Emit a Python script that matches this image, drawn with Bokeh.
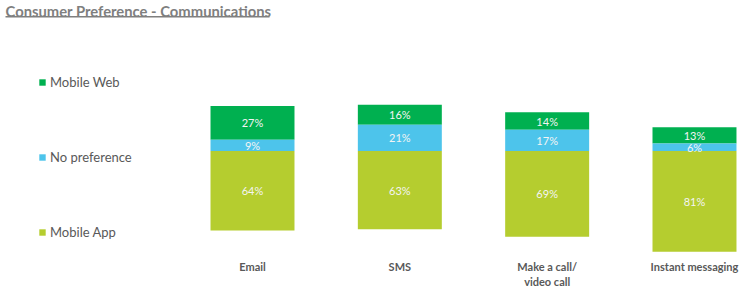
from bokeh.plotting import figure
from bokeh.models import (ColumnDataSource, Range1d, Legend, LegendItem, Label,
                          BoxAnnotation, FixedTicker)
from bokeh.core.properties import value
from bokeh.embed import file_html
from bokeh.resources import INLINE

# ---- data ----
categories = ["Email", "SMS", "Make a call/\nvideo call", "Instant messaging"]
mobile_web = [27, 16, 14, 13]
no_preference = [9, 21, 17, 6]
mobile_app = [64, 63, 69, 81]
series_names = ["Mobile Web", "No preference", "Mobile App"]
colors = ["#00B050", "#4DC4EB", "#B5CD2F"]
title_text = "Consumer Preference - Communications"

# ---- layout ----
W, H = 745, 291
frame_bottom = 255          # canvas px where the plotting frame ends
first_center = 252          # canvas px of the first category centre
cat_step = 147.33           # px between category centres
base_px = 151.6             # canvas px of the 0 line (App below, others above)
px_per_pct = 1.255

x = list(range(len(categories)))
src = ColumnDataSource(dict(
    x=x,
    web_bottom=no_preference,
    web_top=[n + w for n, w in zip(no_preference, mobile_web)],
    np_top=no_preference,
    app_bottom=[-a for a in mobile_app],
    web_mid=[n + w / 2 for n, w in zip(no_preference, mobile_web)],
    np_mid=[n / 2 for n in no_preference],
    app_mid=[-a / 2 for a in mobile_app],
    web_lbl=[f"{v}%" for v in mobile_web],
    np_lbl=[f"{v}%" for v in no_preference],
    app_lbl=[f"{v}%" for v in mobile_app],
))

p = figure(width=W, height=H, output_backend="svg", toolbar_location=None,
           x_range=Range1d(-first_center / cat_step, (W - first_center) / cat_step),
           y_range=Range1d(-(frame_bottom - base_px) / px_per_pct, base_px / px_per_pct),
           min_border_left=0, min_border_right=0, min_border_top=0,
           min_border_bottom=H - frame_bottom, y_axis_location=None)
p.outline_line_color = None
p.grid.visible = False
p.background_fill_color = "white"
p.border_fill_color = "white"

bw = 0.57
r_web = p.vbar(x="x", width=bw, bottom="web_bottom", top="web_top", source=src,
               fill_color=colors[0], line_color=None)
r_np = p.vbar(x="x", width=bw, bottom=0, top="np_top", source=src,
              fill_color=colors[1], line_color=None)
r_app = p.vbar(x="x", width=bw, bottom="app_bottom", top=0, source=src,
               fill_color=colors[2], line_color=None)

for col, lbl in [("web_mid", "web_lbl"), ("np_mid", "np_lbl"), ("app_mid", "app_lbl")]:
    p.text(x="x", y=col, text=lbl, source=src, text_align="center",
           text_baseline="middle", text_color="#F4F4F4",
           text_font=value("Lato"), text_font_size="11px")

# x axis
ax = p.xaxis[0]
ax.ticker = FixedTicker(ticks=x)
ax.major_label_overrides = {i: c for i, c in zip(x, categories)}
ax.axis_line_color = None
ax.major_tick_line_color = None
ax.minor_tick_line_color = None
ax.major_tick_out = 0
ax.major_label_standoff = 6
ax.major_label_text_font = "Lato"
ax.major_label_text_font_style = "bold"
ax.major_label_text_font_size = "11px"
ax.major_label_text_color = "#595959"

# legend
legend = Legend(items=[LegendItem(label=series_names[0], renderers=[r_web]),
                       LegendItem(label=series_names[1], renderers=[r_np]),
                       LegendItem(label=series_names[2], renderers=[r_app])],
                location=(38, 11), orientation="vertical",
                glyph_width=8, glyph_height=8, label_standoff=4,
                label_height=21, spacing=54, padding=0, margin=0,
                border_line_color=None, background_fill_alpha=0,
                label_text_font="Lato", label_text_font_size="13px",
                label_text_color="#595959")
p.add_layout(legend)

# title with underline
p.add_layout(Label(x=5, y=frame_bottom - 12, x_units="screen", y_units="screen",
                   text=title_text, text_font="Lato", text_font_style="bold",
                   text_font_size="14.8px", text_color="#7F7F7F",
                   text_baseline="alphabetic"))
p.add_layout(BoxAnnotation(left=5, right=269, bottom=frame_bottom - 19,
                           top=frame_bottom - 17.6, left_units="screen",
                           right_units="screen", bottom_units="screen",
                           top_units="screen", fill_color="#7F7F7F",
                           fill_alpha=1, line_color=None))

open("out.html", "w").write(file_html(p, INLINE))
